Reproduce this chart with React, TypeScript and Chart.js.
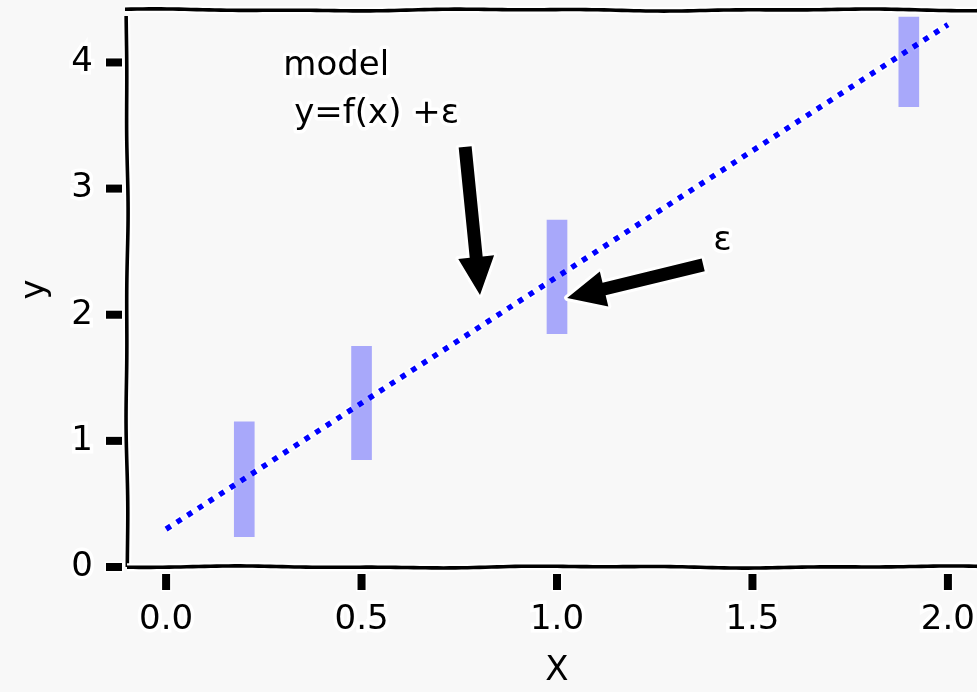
import React, { useEffect, useRef } from "react";
import { Chart, registerables } from "chart.js";

Chart.register(...registerables);

// ---- data ----
const lineX = [0, 2];
const lineY = [0.3, 4.3];
const barX = [0.2, 0.5, 1.0, 1.9];
const barLow = [0.24, 0.85, 1.85, 3.65];
const barHigh = [1.15, 1.75, 2.75, 4.36];
const xTicks = [0, 0.5, 1.0, 1.5, 2.0];
const yTicks = [0, 1, 2, 3, 4];
const xRange = [-0.1, 2.1];
const yRange = [0, 4.4];
const textNotes = [
  { lines: ["model", " y=f(x) +ε"], x: 0.3, y: 3.9 },
  { lines: ["ε"], x: 1.4, y: 2.51 },
];
const arrowNotes = [
  { fromX: 0.765, fromY: 3.33, toX: 0.803, toY: 2.157 },
  { fromX: 1.374, fromY: 2.395, toX: 1.026, toY: 2.133 },
];

const FONT = '"DejaVu Sans", sans-serif';
const BG = "#f8f8f8";

function wiggle(ctx: CanvasRenderingContext2D, x1: number, y1: number, x2: number, y2: number, seed: number) {
  const len = Math.hypot(x2 - x1, y2 - y1);
  const n = Math.max(2, Math.ceil(len / 6));
  const nx = -(y2 - y1) / len, ny = (x2 - x1) / len;
  ctx.beginPath();
  for (let i = 0; i <= n; i++) {
    const t = i / n;
    const s = t * len;
    const off = 0.7 * Math.sin(s / 55 + seed) + 0.4 * Math.sin(s / 23 + seed * 2.3);
    const px = x1 + (x2 - x1) * t + nx * off;
    const py = y1 + (y2 - y1) * t + ny * off;
    if (i === 0) ctx.moveTo(px, py); else ctx.lineTo(px, py);
  }
}

function strokeSpine(ctx: CanvasRenderingContext2D, x1: number, y1: number, x2: number, y2: number, seed: number) {
  ctx.save();
  ctx.lineCap = "butt";
  ctx.lineJoin = "round";
  wiggle(ctx, x1, y1, x2, y2, seed);
  ctx.strokeStyle = "#ffffff";
  ctx.lineWidth = 8;
  ctx.stroke();
  wiggle(ctx, x1, y1, x2, y2, seed);
  ctx.strokeStyle = "#000000";
  ctx.lineWidth = 3.6;
  ctx.stroke();
  ctx.restore();
}

function drawArrow(ctx: CanvasRenderingContext2D, x1: number, y1: number, x2: number, y2: number) {
  const len = Math.hypot(x2 - x1, y2 - y1);
  const ux = (x2 - x1) / len, uy = (y2 - y1) / len;
  const px = -uy, py = ux;
  const shaft = 6.5, head = 18, headLen = 38;
  const bx = x2 - ux * headLen, by = y2 - uy * headLen;
  ctx.save();
  ctx.beginPath();
  ctx.moveTo(x1 + px * shaft, y1 + py * shaft);
  ctx.lineTo(bx + px * shaft, by + py * shaft);
  ctx.lineTo(bx + px * head, by + py * head);
  ctx.lineTo(x2, y2);
  ctx.lineTo(bx - px * head, by - py * head);
  ctx.lineTo(bx - px * shaft, by - py * shaft);
  ctx.lineTo(x1 - px * shaft, y1 - py * shaft);
  ctx.closePath();
  ctx.lineJoin = "round";
  ctx.strokeStyle = "#ffffff";
  ctx.lineWidth = 6;
  ctx.stroke();
  ctx.fillStyle = "#000000";
  ctx.fill();
  ctx.restore();
}

const xkcdPlugin = {
  id: "xkcdDecor",
  beforeDraw(chart: any) {
    const ctx = chart.ctx;
    ctx.save();
    ctx.fillStyle = BG;
    ctx.fillRect(0, 0, chart.width, chart.height);
    ctx.restore();
  },
  beforeDatasetDraw(chart: any, args: any) {
    const ds = chart.data.datasets[args.index];
    if (ds.type !== "line") return;
    const pts = args.meta.data;
    const ctx = chart.ctx;
    const a = chart.chartArea;
    ctx.save();
    ctx.beginPath();
    ctx.rect(a.left, a.top, a.right - a.left, a.bottom - a.top);
    ctx.clip();
    ctx.beginPath();
    pts.forEach((p: any, i: number) => (i === 0 ? ctx.moveTo(p.x, p.y) : ctx.lineTo(p.x, p.y)));
    ctx.strokeStyle = "#ffffff";
    ctx.lineWidth = 8.5;
    ctx.lineCap = "butt";
    ctx.setLineDash([8.5, 4.2]);
    ctx.lineDashOffset = 1.5;
    ctx.stroke();
    ctx.restore();
  },
  afterDraw(chart: any) {
    const ctx = chart.ctx;
    const a = chart.chartArea;
    const xs = chart.scales.x, ys = chart.scales.y;
    // spines
    strokeSpine(ctx, a.left, a.top + 4, a.left, a.bottom, 1.1);
    strokeSpine(ctx, a.left, a.bottom, a.right, a.bottom, 2.7);
    strokeSpine(ctx, a.left - 2, a.top - 2, a.right, a.top - 2, 4.2);
    strokeSpine(ctx, a.right, a.top - 2, a.right, a.bottom, 0.3);
    // tick marks
    ctx.save();
    ctx.fillStyle = "#000";
    ctx.strokeStyle = "#fff";
    ctx.lineWidth = 3;
    ys.ticks.forEach((t: any) => {
      const y = ys.getPixelForValue(t.value);
      ctx.strokeRect(a.left - 21, y - 4, 16, 8);
      ctx.fillRect(a.left - 21, y - 4, 16, 8);
    });
    xs.ticks.forEach((t: any) => {
      const x = xs.getPixelForValue(t.value);
      ctx.strokeRect(x - 4, a.bottom + 7, 8, 16);
      ctx.fillRect(x - 4, a.bottom + 7, 8, 16);
    });
    ctx.restore();
    // arrows
    arrowNotes.forEach((n) => {
      drawArrow(
        ctx,
        xs.getPixelForValue(n.fromX), ys.getPixelForValue(n.fromY),
        xs.getPixelForValue(n.toX), ys.getPixelForValue(n.toY)
      );
    });
    // texts
    ctx.save();
    ctx.font = `34px ${FONT}`;
    ctx.textAlign = "left";
    ctx.textBaseline = "alphabetic";
    ctx.lineJoin = "round";
    textNotes.forEach((n) => {
      const x = xs.getPixelForValue(n.x);
      const y0 = ys.getPixelForValue(n.y);
      n.lines.forEach((line, i) => {
        const y = y0 + i * 48;
        ctx.strokeStyle = "#ffffff";
        ctx.lineWidth = 7;
        ctx.strokeText(line, x, y);
        ctx.fillStyle = "#000000";
        ctx.fillText(line, x, y);
      });
    });
    ctx.restore();
  },
};

export default function App() {
  const ref = useRef<HTMLCanvasElement | null>(null);
  useEffect(() => {
    if (!ref.current) return;
    const tickFont = { family: FONT, size: 34 };
    const yTickFont = { family: FONT, size: 34, lineHeight: 0.6 };
    const chart = new Chart(ref.current, {
      type: "bar",
      data: {
        datasets: [
          {
            type: "bar",
            label: "error",
            data: barX.map((x, i) => ({ x, y: [barLow[i], barHigh[i]] })) as any,
            backgroundColor: "rgba(0,0,255,0.32)",
            borderWidth: 0,
            barThickness: 20,
            order: 1,
          } as any,
          {
            type: "line",
            label: "model",
            data: lineX.map((x, i) => ({ x, y: lineY[i] })),
            borderColor: "#0000ff",
            borderWidth: 5.5,
            borderDash: [5.5, 7.2],
            borderCapStyle: "butt",
            pointRadius: 0,
            fill: false,
            order: 2,
          } as any,
        ],
      },
      options: {
        responsive: false,
        animation: false,
        layout: { padding: { left: 0, top: 12, right: 53, bottom: 28 } },
        plugins: { legend: { display: false }, tooltip: { enabled: false } },
        scales: {
          x: {
            type: "linear",
            offset: false,
            min: xRange[0],
            max: xRange[1],
            afterBuildTicks: (s: any) => { s.ticks = xTicks.map((v) => ({ value: v })); },
            afterFit: (s: any) => { s.height = 125; },
            grid: { display: false, drawTicks: false },
            border: { display: false },
            ticks: {
              font: tickFont,
              color: "#000",
              padding: 33,
              maxRotation: 0,
              autoSkip: false,
              textStrokeColor: "#ffffff",
              textStrokeWidth: 7,
              callback: (v: any) => Number(v).toFixed(1),
            },
            title: { display: true, text: "X", font: tickFont, color: "#000", padding: { top: 0, bottom: 0 } },
          },
          y: {
            type: "linear",
            min: yRange[0],
            max: yRange[1],
            afterBuildTicks: (s: any) => { s.ticks = yTicks.map((v) => ({ value: v })); },
            afterFit: (s: any) => { s.width = 127; },
            grid: { display: false, drawTicks: true, tickLength: 34 },
            border: { display: false },
            ticks: {
              font: yTickFont,
              color: "#000",
              padding: 0,
              autoSkip: false,
              textStrokeColor: "#ffffff",
              textStrokeWidth: 7,
              callback: (v: any) => String(v),
            },
            title: { display: true, text: "y", font: tickFont, color: "#000", padding: { top: 15, bottom: 0 } },
          },
        },
      } as any,
      plugins: [xkcdPlugin],
    });
    return () => chart.destroy();
  }, []);
  return (
    <div style={{ position: "fixed", left: 0, top: 0, width: 977, height: 692, overflow: "hidden", background: BG }}>
      <canvas ref={ref} width={1040} height={720} style={{ display: "block", width: 1040, height: 720 }} />
    </div>
  );
}
